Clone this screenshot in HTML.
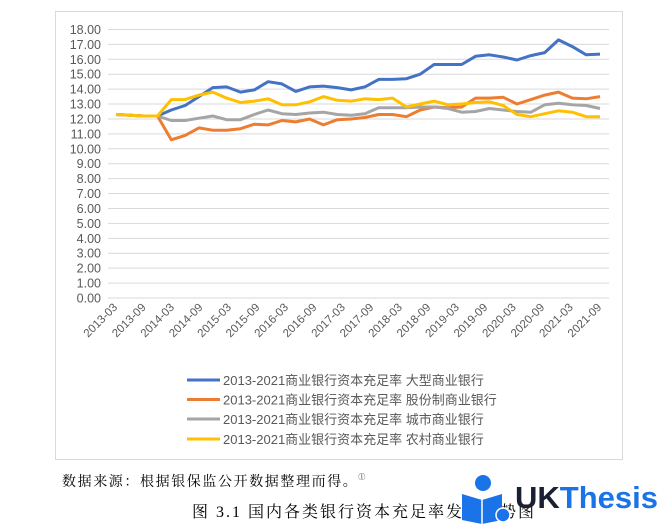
<!DOCTYPE html>
<html><head><meta charset="utf-8"><style>
body{margin:0;background:#fff;width:671px;height:524px;overflow:hidden;position:relative}
svg{position:absolute;left:0;top:0}
.t{font-family:"Liberation Sans","Noto Sans CJK SC",sans-serif}
.s{font-family:"Liberation Serif","Noto Serif CJK SC",serif}
</style></head><body>
<svg width="671" height="524" id="c">
<rect x="55.5" y="11.5" width="567" height="448" fill="#fff" stroke="#d9d9d9"/>
<g id="grid"></g>
<g id="lines" fill="none" stroke-width="3" stroke-linejoin="round"></g>
<g class="t" font-size="13" fill="#595959">
<line x1="187" y1="380" x2="220" y2="380" stroke="#4472c4" stroke-width="3"/>
<text x="223" y="385">2013-2021商业银行资本充足率 大型商业银行</text>
<line x1="187" y1="399.5" x2="220" y2="399.5" stroke="#ed7d31" stroke-width="3"/>
<text x="223" y="404.5">2013-2021商业银行资本充足率 股份制商业银行</text>
<line x1="187" y1="419" x2="220" y2="419" stroke="#a5a5a5" stroke-width="3"/>
<text x="223" y="424">2013-2021商业银行资本充足率 城市商业银行</text>
<line x1="187" y1="439" x2="220" y2="439" stroke="#ffc000" stroke-width="3"/>
<text x="223" y="444">2013-2021商业银行资本充足率 农村商业银行</text>
</g>
<text class="s" x="62" y="486" font-size="14" letter-spacing="1.6" fill="#000">数据来源：根据银保监公开数据整理而得。<tspan font-size="7" dy="-7">①</tspan></text>
<text class="s" x="192" y="517" font-size="16" letter-spacing="2" fill="#000">图 3.1 国内各类银行资本充足率发展趋势图</text>
<g>
<circle cx="483" cy="483" r="8" fill="#1a73e8"/>
<path d="M462 494 L482 500 L502 494 L502 520 L482 524 L462 520Z" fill="#1a73e8"/>
<line x1="482" y1="500" x2="482" y2="524" stroke="#fff" stroke-width="1.5"/>
<circle cx="503" cy="515" r="7" fill="#1a73e8" stroke="#fff" stroke-width="1.5"/>
</g>
<text x="515" y="508" font-family="Liberation Sans,sans-serif" font-weight="bold" font-size="31"><tspan fill="#1b1f33">UK</tspan><tspan fill="#1a73e8">Thesis</tspan></text>
</svg>
<script>
var ns="http://www.w3.org/2000/svg";
function el(n,a,p,t){var e=document.createElementNS(ns,n);for(var k in a)e.setAttribute(k,a[k]);if(t)e.textContent=t;p.appendChild(e);return e;}
var g=document.getElementById('grid');
var y0=298,st=14.92;
for(var i=0;i<=18;i++){var y=y0-i*st;
el('line',{x1:108,x2:609,y1:y,y2:y,stroke:'#d9d9d9','stroke-width':1},g);
el('text',{x:101,y:y+4.5,'text-anchor':'end','font-size':'12.5',fill:'#595959','class':'t'},g,i.toFixed(2));}
var labs=['2013-03','2013-09','2014-03','2014-09','2015-03','2015-09','2016-03','2016-09','2017-03','2017-09','2018-03','2018-09','2019-03','2019-09','2020-03','2020-09','2021-03','2021-09'];
var x0=116,dx=14.24;
labs.forEach(function(l,i){var x=x0+i*2*dx+2,y=308;
el('text',{x:x,y:y,'text-anchor':'end','font-size':'11.5',fill:'#595959','class':'t',transform:'rotate(-45 '+x+' '+y+')'},g,l);});
var B=[12.3,12.25,12.2,12.2,12.6,12.9,13.5,14.1,14.15,13.8,13.95,14.5,14.35,13.85,14.15,14.2,14.1,13.95,14.15,14.65,14.65,14.7,15.0,15.65,15.65,15.65,16.2,16.3,16.15,15.95,16.25,16.45,17.3,16.85,16.3,16.35];
var O=[12.3,12.25,12.2,12.2,10.6,10.9,11.4,11.25,11.25,11.35,11.65,11.6,11.9,11.8,12.0,11.6,11.95,12.0,12.1,12.3,12.3,12.15,12.6,12.8,12.75,12.8,13.4,13.4,13.45,13.0,13.3,13.6,13.8,13.4,13.35,13.5];
var G=[12.3,12.25,12.2,12.2,11.9,11.9,12.05,12.2,11.95,11.95,12.3,12.6,12.35,12.3,12.4,12.45,12.3,12.25,12.35,12.75,12.75,12.75,12.8,12.8,12.7,12.45,12.5,12.7,12.6,12.5,12.45,12.95,13.05,12.95,12.9,12.7];
var Y=[12.3,12.25,12.2,12.2,13.3,13.3,13.6,13.8,13.4,13.1,13.2,13.35,12.95,12.95,13.15,13.5,13.25,13.2,13.35,13.3,13.4,12.8,13.0,13.2,12.95,13.0,13.1,13.15,12.9,12.3,12.15,12.35,12.55,12.45,12.15,12.15];
var L=document.getElementById('lines');
var step=(600-116)/(B.length-1);
[[B,'#4472c4'],[O,'#ed7d31'],[G,'#a5a5a5'],[Y,'#ffc000']].forEach(function(s){
var p=s[0].map(function(v,i){return (116+i*step).toFixed(1)+','+(y0-v*st).toFixed(1);}).join(' ');
el('polyline',{points:p,stroke:s[1]},L);});
</script>
</body></html>
